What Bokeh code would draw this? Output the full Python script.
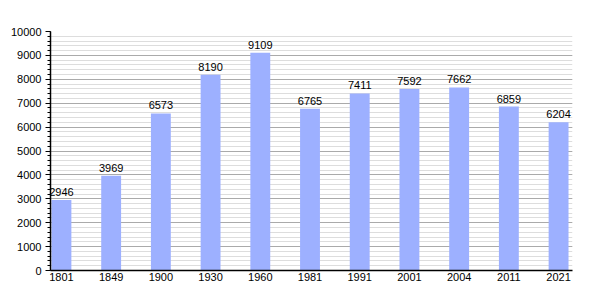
from bokeh.plotting import figure
from bokeh.models import ColumnDataSource, FixedTicker, SingleIntervalTicker, Range1d, LabelSet
from bokeh.core.properties import value
from bokeh.embed import file_html
from bokeh.resources import INLINE

years = ["1801", "1849", "1900", "1930", "1960", "1981", "1991", "2001", "2004", "2011", "2021"]
population = [2946, 3969, 6573, 8190, 9109, 6765, 7411, 7592, 7662, 6859, 6204]
y_ticks = [0, 1000, 2000, 3000, 4000, 5000, 6000, 7000, 8000, 9000, 10000]

xs = list(range(len(years)))
src = ColumnDataSource(dict(x=xs, y=population, lbl=[str(v) for v in population]))

p = figure(width=600, height=300, output_backend="svg", toolbar_location=None,
           x_range=Range1d(-0.22, 10.28), y_range=Range1d(0, 10000),
           min_border_left=50, min_border_right=28, min_border_top=31, min_border_bottom=30)
p.outline_line_color = None
p.background_fill_color = "white"

p.vbar(x="x", top="y", width=0.4, source=src, color="#9db0ff", line_color=None)

labels = LabelSet(x="x", y="y", text="lbl", source=src, text_align="center",
                  text_baseline="bottom", y_offset=4, text_font_size=value("11px"),
                  text_font=value("Liberation Sans"), text_color="black")
p.add_layout(labels)

p.xaxis.ticker = FixedTicker(ticks=xs)
p.xaxis.major_label_overrides = {i: y for i, y in enumerate(years)}
p.xaxis.major_tick_out = 0
p.xaxis.major_tick_in = 0
p.xaxis.minor_tick_out = 0
p.xaxis.axis_line_color = "black"
p.xaxis.axis_line_width = 1.5
p.xaxis.major_label_text_font_size = "11px"
p.xaxis.major_label_text_font = "Liberation Sans"
p.xaxis.major_label_text_color = "black"
p.xaxis.major_label_standoff = 2

p.yaxis.ticker = SingleIntervalTicker(interval=1000, num_minor_ticks=5)
p.yaxis.axis_line_color = "black"
p.yaxis.axis_line_width = 1.5
p.yaxis.major_tick_out = 5
p.yaxis.major_tick_in = 0
p.yaxis.minor_tick_out = 3
p.yaxis.minor_tick_in = 0
p.yaxis.major_tick_line_color = "black"
p.yaxis.minor_tick_line_color = "black"
p.yaxis.major_label_text_font_size = "11px"
p.yaxis.major_label_text_font = "Liberation Sans"
p.yaxis.major_label_text_color = "black"
p.yaxis.major_label_standoff = 4

p.xgrid.grid_line_color = None
p.ygrid.grid_line_color = "#aaaaaa"
p.ygrid.minor_grid_line_color = "#dddddd"
p.ygrid.level = "underlay"

open("out.html", "w").write(file_html(p, INLINE))
